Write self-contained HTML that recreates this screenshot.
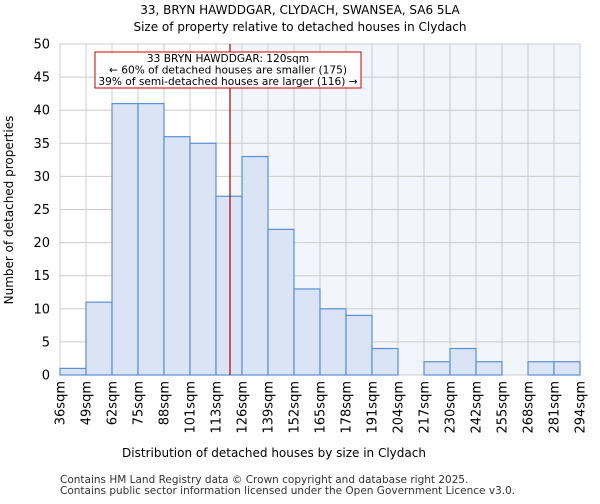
<!DOCTYPE html>
<html><head><meta charset="utf-8"><style>
body{margin:0;background:#fff;font-family:"DejaVu Sans","Liberation Sans",sans-serif;}
</style></head><body>
<svg id="chart" width="600" height="500" xmlns="http://www.w3.org/2000/svg" font-family="DejaVu Sans, Liberation Sans, sans-serif">
<text x="300" y="14" text-anchor="middle" font-size="12">33, BRYN HAWDDGAR, CLYDACH, SWANSEA, SA6 5LA</text>
<text x="300" y="31" text-anchor="middle" font-size="12">Size of property relative to detached houses in Clydach</text>
<rect id="bgR" fill="#f2f5fc"/>
<g id="grid"></g><g id="bars"></g><g id="axes"></g>
<text x="274" y="457" text-anchor="middle" font-size="12">Distribution of detached houses by size in Clydach</text>
<text transform="translate(13,210) rotate(-90)" text-anchor="middle" font-size="12">Number of detached properties</text>
<text x="60" y="483" font-size="10.5" fill="#333">Contains HM Land Registry data © Crown copyright and database right 2025.</text>
<text x="60" y="494" font-size="10.5" fill="#333">Contains public sector information licensed under the Open Government Licence v3.0.</text>
</svg>
<script>
const categories=["36sqm","49sqm","62sqm","75sqm","88sqm","101sqm","113sqm","126sqm","139sqm","152sqm","165sqm","178sqm","191sqm","204sqm","217sqm","230sqm","242sqm","255sqm","268sqm","281sqm","294sqm"];
const counts=[1,11,41,41,36,35,27,33,22,13,10,9,4,0,2,4,2,0,2,2];
const yTicks=[0,5,10,15,20,25,30,35,40,45,50];
const markerBin=6+7/13;
const annotationLines=["33 BRYN HAWDDGAR: 120sqm","← 60% of detached houses are smaller (175)","39% of semi-detached houses are larger (116) →"];
const NS="http://www.w3.org/2000/svg";
const L=60,R=580,T=44,B=375;
const bw=(R-L)/counts.length;
const x=i=>L+i*bw;
const y=v=>B-(v/50)*(B-T);
function mk(tag,attrs,parent,text){const e=document.createElementNS(NS,tag);for(const k in attrs)e.setAttribute(k,attrs[k]);if(text!==undefined)e.textContent=text;parent.appendChild(e);return e;}
const bg=document.getElementById('bgR');
const mx=x(markerBin);
bg.setAttribute('x',mx);bg.setAttribute('y',T);bg.setAttribute('width',R-mx);bg.setAttribute('height',B-T);
const grid=document.getElementById('grid'),bars=document.getElementById('bars'),axes=document.getElementById('axes');
yTicks.forEach(t=>{
 const g=mk('line',{x1:L,x2:R,y1:y(t),y2:y(t),stroke:'#cccccc','stroke-width':1},grid);
 
 
 const tx=mk('text',{x:L-10,y:y(t)+4.5,'text-anchor':'end','font-size':13},axes,t);
 
 
});
categories.forEach((c,i)=>{
 const g=mk('line',{x1:x(i),x2:x(i),y1:T,y2:B,stroke:'#cccccc','stroke-width':1},grid);
 
 
 const tx=mk('text',{transform:`translate(${x(i)+4.5},${B+6}) rotate(-90)`,'text-anchor':'end','font-size':13},axes,c);
 
 
});
counts.forEach((v,i)=>{
 if(v<=0)return;
 const r=mk('rect',{x:x(i),y:y(v),width:bw,height:B-y(v),fill:'#dae4f4',stroke:'#5b8fd6','stroke-width':1.2},bars);
 
 
});
const ml=mk('line',{x1:mx,x2:mx,y1:T,y2:B,stroke:'#aa0000','stroke-width':1.2},axes);


const ab=mk('rect',{x:95,y:52,width:266,height:36,fill:'#fff',stroke:'#cc0000','stroke-width':1},axes);


annotationLines.forEach((s,i)=>{
 const t=mk('text',{x:228,y:62+i*11.5,'text-anchor':'middle','font-size':10.6},axes,s);
 
 
});
</script>
</body></html>
